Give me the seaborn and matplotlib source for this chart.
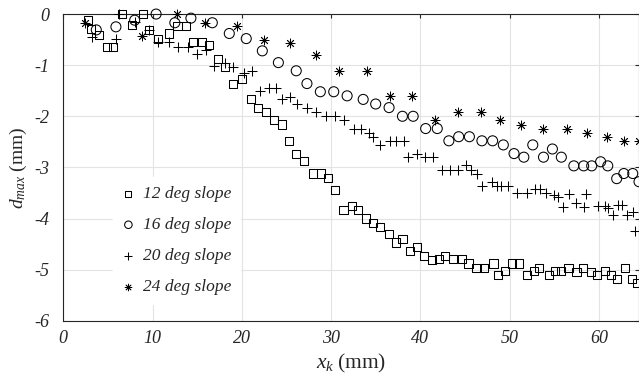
import numpy as np
import pandas as pd
import matplotlib
matplotlib.use("Agg")
import matplotlib.pyplot as plt
import seaborn as sns

# ----------------------------
# Data
# ----------------------------
x12 = [2.8, 3.1, 4.0, 4.9, 5.6, 6.6, 7.7, 8.9, 9.6, 10.6, 11.8, 12.8, 13.7, 14.5, 15.5,
       16.3, 17.3, 18.1, 19.0, 20.0, 21.0, 21.8, 22.7, 23.6, 24.5, 25.3, 26.1, 27.0, 28.0,
       28.9, 29.7, 30.4, 31.4, 32.3, 33.0, 33.9, 34.7, 35.5, 36.5, 37.3, 38.0, 38.8, 39.6,
       40.4, 41.3, 42.1, 42.8, 43.7, 44.7, 45.4, 46.3, 47.1, 48.2, 48.7, 49.5, 50.3, 51.1,
       52.0, 52.7, 53.3, 54.4, 55.1, 55.8, 56.6, 57.5, 58.2, 59.1, 59.8, 60.7, 61.4, 62.0,
       62.9, 63.7, 64.3]
y12 = [-0.12, -0.29, -0.41, -0.64, -0.64, 0.0, -0.22, 0.0, -0.31, -0.48, -0.38, -0.23, -0.23,
       -0.54, -0.54, -0.61, -0.88, -1.03, -1.36, -1.27, -1.67, -1.83, -1.91, -2.07, -2.16,
       -2.48, -2.73, -2.88, -3.12, -3.12, -3.20, -3.44, -3.84, -3.76, -3.84, -4.00, -4.08,
       -4.16, -4.31, -4.47, -4.40, -4.63, -4.55, -4.73, -4.81, -4.79, -4.73, -4.80, -4.80,
       -4.88, -4.96, -4.96, -4.88, -5.10, -5.02, -4.88, -4.88, -5.10, -5.02, -4.96, -5.10,
       -5.02, -5.02, -4.96, -5.04, -4.96, -5.04, -5.10, -5.02, -5.10, -5.19, -4.96, -5.19,
       -5.27]

x16 = [3.7, 5.9, 8.0, 10.4, 12.5, 14.3, 16.7, 18.6, 20.5, 22.3, 24.1, 26.1, 27.3, 28.8,
       30.3, 31.8, 33.6, 35.0, 36.5, 38.0, 39.2, 40.6, 41.9, 43.2, 44.3, 45.5, 46.9, 48.1,
       49.3, 50.5, 51.6, 52.6, 53.8, 54.8, 55.8, 57.2, 58.3, 59.2, 60.2, 61.0, 62.0, 62.8,
       63.8, 64.5]
y16 = [-0.31, -0.25, -0.12, 0.0, -0.17, -0.08, -0.17, -0.38, -0.48, -0.72, -0.95, -1.11,
       -1.36, -1.52, -1.52, -1.60, -1.67, -1.76, -1.83, -2.00, -2.00, -2.24, -2.24, -2.48,
       -2.40, -2.40, -2.48, -2.48, -2.56, -2.73, -2.80, -2.56, -2.80, -2.64, -2.80, -2.97,
       -2.97, -2.97, -2.89, -2.97, -3.22, -3.12, -3.12, -3.28]

x20 = [3.2, 5.9, 6.2, 8.0, 9.6, 10.6, 11.8, 12.8, 14.0, 15.0, 16.0, 16.9, 18.1, 19.0, 20.2,
       21.1, 22.0, 23.0, 23.8, 24.5, 25.4, 26.2, 27.3, 28.3, 29.4, 30.4, 31.4, 32.6, 33.4,
       34.3, 34.7, 35.5, 36.6, 37.3, 38.2, 38.6, 39.6, 40.5, 41.4, 42.4, 43.3, 44.2, 45.1,
       45.7, 46.3, 46.9, 48.0, 48.6, 49.0, 49.8, 50.8, 51.9, 52.8, 53.4, 54.1, 55.0, 55.4,
       56.0, 56.7, 57.4, 58.3, 58.6, 59.9, 60.7, 61.0, 61.6, 62.2, 62.6, 63.1, 63.8, 64.1]
y20 = [-0.44, -0.48, 0.0, -0.15, -0.31, -0.54, -0.54, -0.64, -0.64, -0.79, -0.71, -1.02,
       -0.96, -1.03, -1.15, -1.11, -1.50, -1.45, -1.45, -1.67, -1.62, -1.76, -1.83, -1.92,
       -2.00, -2.00, -2.07, -2.24, -2.24, -2.32, -2.40, -2.56, -2.48, -2.48, -2.48, -2.80,
       -2.73, -2.80, -2.80, -3.05, -3.05, -3.05, -2.96, -3.05, -3.12, -3.36, -3.28, -3.36,
       -3.36, -3.36, -3.51, -3.51, -3.43, -3.43, -3.51, -3.54, -3.57, -3.77, -3.52, -3.69,
       -3.77, -3.52, -3.76, -3.76, -3.80, -3.93, -3.74, -3.74, -3.93, -3.87, -4.24]

x24 = [2.4, 8.8, 12.7, 15.9, 19.5, 22.5, 25.4, 28.3, 30.9, 34.0, 36.6, 39.1, 41.7, 44.2,
       46.8, 48.9, 51.3, 53.8, 56.4, 58.7, 60.9, 62.8, 64.5]
y24 = [-0.18, -0.42, 0.0, -0.17, -0.23, -0.50, -0.56, -0.80, -1.11, -1.11, -1.60, -1.60,
       -2.07, -1.92, -1.92, -2.07, -2.17, -2.24, -2.24, -2.32, -2.40, -2.48, -2.48]

labels = ["12 deg slope", "16 deg slope", "20 deg slope", "24 deg slope"]
x_ticks = [0, 10, 20, 30, 40, 50, 60]
y_ticks = [0, -1, -2, -3, -4, -5, -6]

# ----------------------------
# Style
# ----------------------------
sns.set_style("white")
plt.rcParams["font.family"] = ["Liberation Serif", "DejaVu Serif"]
plt.rcParams["mathtext.fontset"] = "custom"
plt.rcParams["mathtext.rm"] = "Liberation Serif"
plt.rcParams["mathtext.it"] = "Liberation Serif:italic"

fig = plt.figure(figsize=(6.39, 3.80), dpi=100)
ax = fig.add_axes([0.099, 0.156, 0.901, 0.807])

series = [(x12, y12, "s", 34, 0.75), (x16, y16, "o", 52, 0.75),
          (x20, y20, "+", 55, 0.75), (x24, y24, (8, 2, 0), 42, 0.6)]
for (xs, ys, mk, sz, lw), lab in zip(series, labels):
    df = pd.DataFrame({"x": xs, "y": ys})
    if mk in ("s", "o"):
        sns.scatterplot(data=df, x="x", y="y", marker=mk, s=sz, facecolor="none",
                        edgecolor="black", linewidth=lw, label=lab, ax=ax, clip_on=False,
                        zorder=3)
    else:
        sns.scatterplot(data=df, x="x", y="y", marker=mk, s=sz, color="black",
                        linewidth=lw, label=lab, ax=ax, clip_on=False, zorder=3)

ax.set_xlim(0, 64.5)
ax.set_ylim(-6, 0)
ax.set_xticks(x_ticks)
ax.set_yticks(y_ticks)
ax.set_xticklabels([str(t) for t in x_ticks], fontstyle="italic", fontsize=13)
ax.set_yticklabels([str(t) for t in y_ticks], fontstyle="italic", fontsize=13)
ax.grid(True, color="#e3e3e3", linewidth=0.8)
ax.set_axisbelow(True)
ax.tick_params(direction="in", top=True, right=True, length=3, width=0.8,
               colors="#262626", pad=10)
ax.tick_params(axis="x", pad=7)
for sp in ax.spines.values():
    sp.set_color("#262626")
    sp.set_linewidth(0.8)

ax.set_xlabel(r"$x_k\;$(mm)", fontsize=15.5, labelpad=3)
ax.set_ylabel(r"$d_{max}$ (mm)", fontsize=14, labelpad=4)

leg = ax.legend(loc="lower left", bbox_to_anchor=(0.086, 0.054), borderaxespad=0,
                frameon=True, fancybox=False, framealpha=1, edgecolor="white",
                markerscale=0.75, handlelength=0.8, handletextpad=0.45,
                labelspacing=0.86, borderpad=0.5, prop={"style": "italic", "size": 12.5})

fig.savefig("out.png", dpi=100)
